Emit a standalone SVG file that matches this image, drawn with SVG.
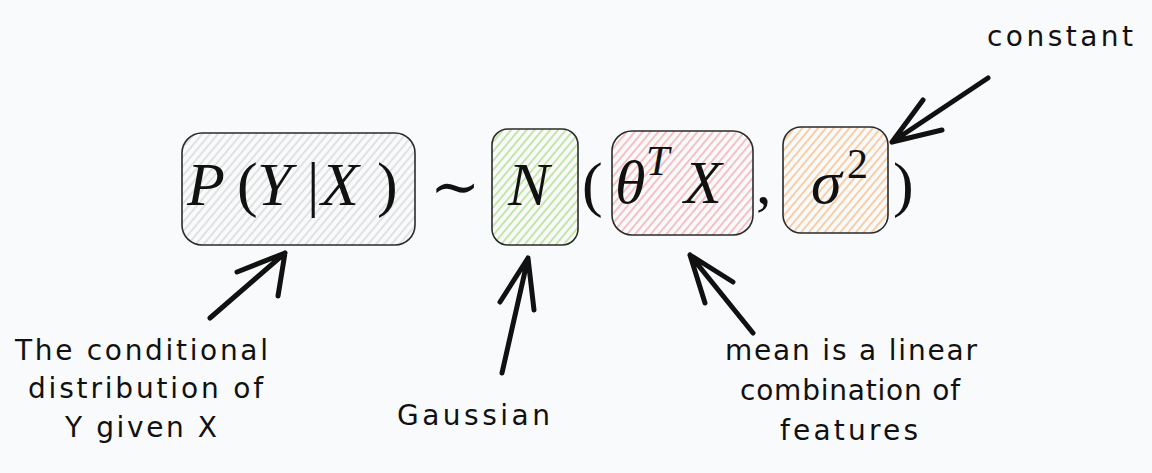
<svg xmlns="http://www.w3.org/2000/svg" width="1152" height="473" viewBox="0 0 1152 473">
  <style>
    .box { stroke: #2b2b2b; stroke-width: 1.6; }
    .math { font-family: "Liberation Serif", "Times New Roman", serif; fill: #111; }
    .it { font-style: italic; }
    .label { font-family: "DejaVu Sans", "Liberation Sans", sans-serif; font-size: 28px; fill: #111; }
    .arrow { fill: none; stroke: #111; stroke-width: 5; stroke-linecap: round; stroke-linejoin: round; }
  </style>
  <defs>
    <pattern id="hGray" width="6" height="6" patternUnits="userSpaceOnUse" patternTransform="rotate(40)">
      <line x1="1" y1="0" x2="1" y2="6" stroke="#d4d4d4" stroke-width="1.3"/>
    </pattern>
    <pattern id="hGreen" width="6" height="6" patternUnits="userSpaceOnUse" patternTransform="rotate(40)">
      <line x1="1" y1="0" x2="1" y2="6" stroke="#b6df8e" stroke-width="1.5"/>
    </pattern>
    <pattern id="hPink" width="6" height="6" patternUnits="userSpaceOnUse" patternTransform="rotate(40)">
      <line x1="1" y1="0" x2="1" y2="6" stroke="#f7aeb0" stroke-width="1.5"/>
    </pattern>
    <pattern id="hOrange" width="6" height="6" patternUnits="userSpaceOnUse" patternTransform="rotate(40)">
      <line x1="1" y1="0" x2="1" y2="6" stroke="#f9bf8a" stroke-width="1.5"/>
    </pattern>
  </defs>
  <rect width="1152" height="473" fill="#f9fafb"/>

  <g id="node-pyx">
    <rect class="box" x="182" y="133" width="233" height="112" rx="20" fill="url(#hGray)"/>
    <text class="math" font-size="62" y="205">
      <tspan class="it" x="187">P</tspan><tspan x="237">(</tspan><tspan class="it" x="257">Y</tspan><tspan x="307">|</tspan><tspan class="it" x="321">X</tspan><tspan x="377">)</tspan>
    </text>
  </g>

  <g id="tilde">
    <text x="430" y="207" font-family="DejaVu Serif, serif" font-size="60" fill="#111">∼</text>
  </g>

  <g id="node-n">
    <rect class="box" x="492" y="129" width="86" height="116" rx="16" fill="url(#hGreen)"/>
    <text class="math it" font-size="62" x="508" y="205">N</text>
  </g>

  <g id="paren-open">
    <text class="math" font-size="62" x="582" y="205">(</text>
  </g>

  <g id="node-mean">
    <rect class="box" x="612" y="131" width="141" height="104" rx="20" fill="url(#hPink)"/>
    <text class="math" y="203">
      <tspan class="it" font-size="62" x="615">θ</tspan><tspan class="it" font-size="42" x="646" y="175">T</tspan><tspan class="it" font-size="62" x="684" y="203">X</tspan>
    </text>
  </g>

  <g id="comma">
    <text class="math" font-size="62" x="756" y="203">,</text>
  </g>

  <g id="node-sigma">
    <rect class="box" x="783" y="127" width="105" height="106" rx="18" fill="url(#hOrange)"/>
    <text class="math" y="203">
      <tspan class="it" font-size="62" x="811">σ</tspan><tspan font-size="42" x="847" y="178">2</tspan>
    </text>
  </g>

  <g id="paren-close">
    <text class="math" font-size="62" x="893" y="205">)</text>
  </g>

  <g id="connectors">
    <path class="arrow" d="M210 318 L285 253 M237 272 L285 253 L278 296"/>
    <path class="arrow" d="M502 373 L528 258 M500 302 L528 258 L534 310"/>
    <path class="arrow" d="M753 333 L690 255 M733 282 L690 255 L705 303"/>
    <path class="arrow" d="M988 78 L892 142 M923 100 L892 142 L942 130"/>
  </g>

  <g id="label-conditional">
    <text class="label" x="15" y="360" textLength="253">The conditional</text>
    <text class="label" x="28" y="398" textLength="235">distribution of</text>
    <text class="label" x="65" y="437" textLength="152">Y given X</text>
  </g>
  <g id="label-gaussian">
    <text class="label" x="397" y="425" textLength="153">Gaussian</text>
  </g>
  <g id="label-mean">
    <text class="label" x="725" y="360" textLength="252">mean is a linear</text>
    <text class="label" x="740" y="400" textLength="220">combination of</text>
    <text class="label" x="780" y="440" textLength="138">features</text>
  </g>
  <g id="label-constant">
    <text class="label" x="987" y="46" textLength="146">constant</text>
  </g>
</svg>
